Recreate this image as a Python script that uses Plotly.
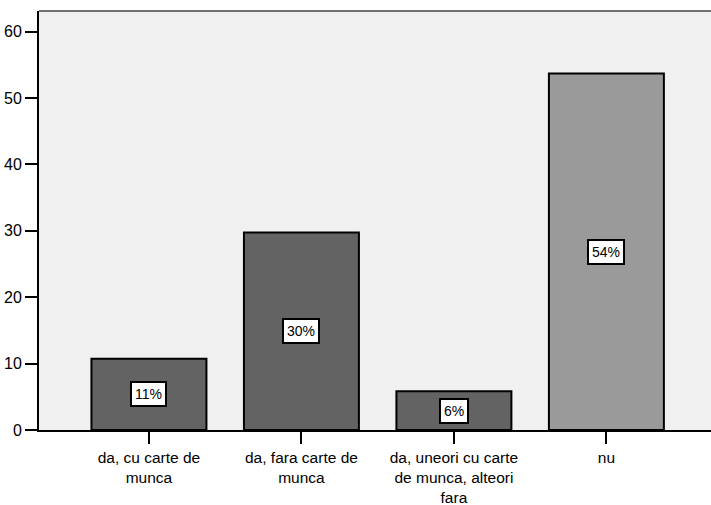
import plotly.graph_objects as go

categories = ["da, cu carte de<br>munca", "da, fara carte de<br>munca",
              "da, uneori cu carte<br>de munca, alteori<br>fara", "nu"]
values = [10.74, 29.74, 5.85, 53.7]
labels = ["11%", "30%", "6%", "54%"]
bar_colors = ["#636363", "#636363", "#636363", "#9a9a9a"]
y_ticks = [0, 10, 20, 30, 40, 50, 60]

FONT = "Liberation Sans, Arial, sans-serif"

fig = go.Figure()
fig.add_trace(go.Bar(
    x=list(range(len(categories))), y=values,
    marker=dict(color=bar_colors, line=dict(color="black", width=2)),
    width=0.754, hoverinfo="skip",
))

for i, (v, t) in enumerate(zip(values, labels)):
    fig.add_annotation(x=i, y=v / 2, text=t, showarrow=False,
                       font=dict(family=FONT, size=14, color="black"),
                       bgcolor="white", bordercolor="black", borderwidth=2, borderpad=3)

fig.add_shape(type="line", xref="paper", yref="paper", x0=0, x1=1, y0=1, y1=1,
              line=dict(color="#444444", width=1.5))

fig.update_layout(
    width=711, height=505,
    margin=dict(l=39, r=0, t=11, b=75, autoexpand=False),
    paper_bgcolor="white", plot_bgcolor="#f0f0f0",
    showlegend=False,
    font=dict(family=FONT, size=15, color="black"),
    xaxis=dict(range=[-0.721, 3.686], tickmode="array",
               tickvals=list(range(len(categories))), ticktext=categories,
               ticks="outside", ticklen=12, tickwidth=2, tickcolor="black",
               showline=True, linecolor="black", linewidth=2,
               showgrid=False, zeroline=False, automargin=False,
               tickfont=dict(family=FONT, size=15.5)),
    yaxis=dict(range=[0, 63.1], tickvals=y_ticks,
               ticks="outside", ticklen=12, tickwidth=2, tickcolor="black",
               showline=True, linecolor="black", linewidth=2,
               showgrid=False, zeroline=False, automargin=False,
               tickfont=dict(family=FONT, size=16)),
)

fig.write_html("out.html", config={"displayModeBar": False},
               post_script="document.body.style.margin='0';")
